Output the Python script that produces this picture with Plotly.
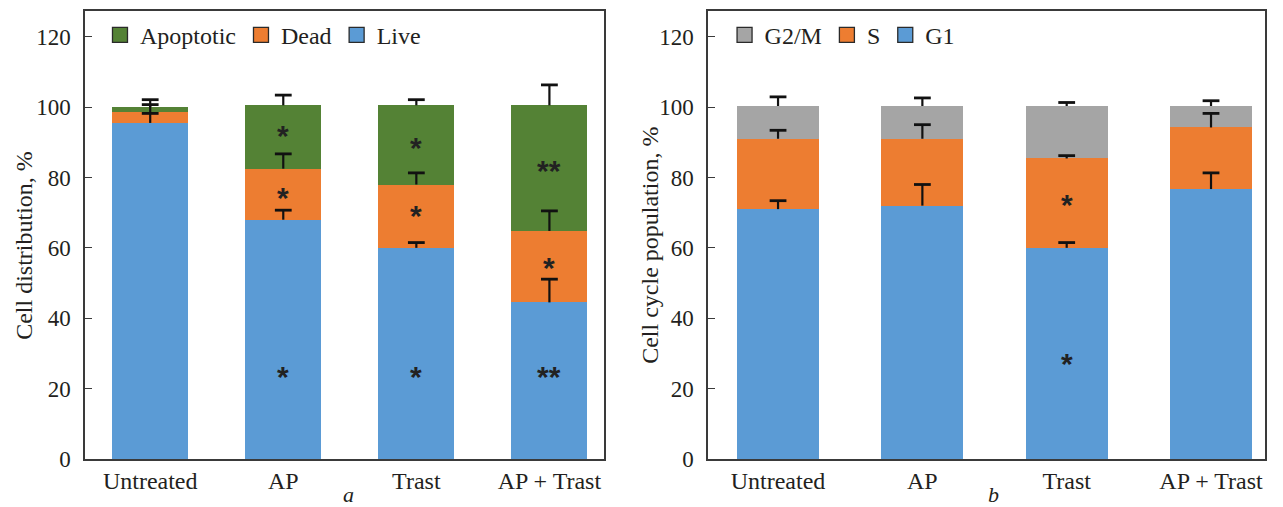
import plotly.graph_objects as go

# ---------------- data ----------------
categories = ["Untreated", "AP", "Trast", "AP + Trast"]

# panel a: cell distribution, %
live = [95.5, 68.0, 60.0, 44.5]
dead = [3.0, 14.5, 18.0, 20.3]
apoptotic = [1.5, 18.0, 22.5, 35.7]
live_err = [2.7, 2.7, 1.5, 6.6]
dead_err = [2.2, 4.2, 3.3, 5.7]
apoptotic_err = [2.1, 2.9, 1.6, 5.8]

# panel b: cell cycle population, %
g1 = [71.0, 72.0, 60.0, 76.7]
s_phase = [20.0, 19.0, 25.4, 17.5]
g2m = [9.3, 9.3, 14.9, 6.1]
g1_err = [2.4, 6.0, 1.5, 4.6]
s_err = [2.4, 4.0, 0.8, 4.0]
g2m_err = [2.6, 2.3, 1.0, 1.5]

y_ticks = [0, 20, 40, 60, 80, 100, 120]

# significance marks: (category, y value, label)
sig_a = [
    ("AP", 25.5, "*"), ("Trast", 25.5, "*"), ("AP + Trast", 25.5, "**"),
    ("AP", 76.3, "*"), ("Trast", 71.2, "*"), ("AP + Trast", 56.5, "*"),
    ("AP", 94.0, "*"), ("Trast", 90.5, "*"), ("AP + Trast", 84.0, "**"),
]
sig_b = [("Trast", 29.2, "*"), ("Trast", 74.3, "*")]

# ---------------- style ----------------
BLUE = "#5B9BD5"
ORANGE = "#ED7D31"
GREEN = "#548235"
GRAY = "#A5A5A5"
TXT = "#231F20"
FONT = "Liberation Serif"
BAR_W = 0.57
FS = 24
EB = "#111111"


def bar(y, color, xa, ya):
    return go.Bar(x=categories, y=y, width=BAR_W, marker=dict(color=color, line=dict(width=0)),
                  showlegend=False, xaxis=xa, yaxis=ya, hoverinfo="y")


def cumulative(*series):
    out, run = [], [0.0] * len(categories)
    for s in series:
        run = [a + b for a, b in zip(run, s)]
        out.append(run)
    return out


def err_overlay(tops, e, xa, ya):
    # upward-only "T" error bars drawn above the stacked segments
    stem = go.Scatter(x=categories, y=tops, mode="markers", marker=dict(size=1, opacity=0),
                      error_y=dict(type="data", symmetric=False, array=e,
                                   arrayminus=[0] * len(e), color=EB, thickness=2.2, width=0),
                      showlegend=False, hoverinfo="skip", xaxis=xa, yaxis=ya)
    caps = go.Scatter(x=categories, y=[t + v for t, v in zip(tops, e)], mode="markers",
                      marker=dict(symbol="line-ew", size=12, color=EB,
                                  line=dict(width=2.8, color=EB)),
                      showlegend=False, hoverinfo="skip", xaxis=xa, yaxis=ya)
    return [stem, caps]


def legend_item(name, color, xa, ya, lg):
    return go.Scatter(x=[None], y=[None], mode="markers", name=name,
                      marker=dict(symbol="square", size=15, color=color,
                                  line=dict(color="#2a2a2a", width=1.3)),
                      xaxis=xa, yaxis=ya, legend=lg, showlegend=True)


fig = go.Figure()
fig.add_trace(bar(live, BLUE, "x", "y"))
fig.add_trace(bar(dead, ORANGE, "x", "y"))
fig.add_trace(bar(apoptotic, GREEN, "x", "y"))
fig.add_trace(bar(g1, BLUE, "x2", "y2"))
fig.add_trace(bar(s_phase, ORANGE, "x2", "y2"))
fig.add_trace(bar(g2m, GRAY, "x2", "y2"))

ta = cumulative(live, dead, apoptotic)
for tops, e in zip(ta, [live_err, dead_err, apoptotic_err]):
    fig.add_traces(err_overlay(tops, e, "x", "y"))
tb = cumulative(g1, s_phase, g2m)
for tops, e in zip(tb, [g1_err, s_err, g2m_err]):
    fig.add_traces(err_overlay(tops, e, "x2", "y2"))

fig.add_trace(legend_item("Apoptotic", GREEN, "x", "y", "legend"))
fig.add_trace(legend_item("Dead", ORANGE, "x", "y", "legend"))
fig.add_trace(legend_item("Live", BLUE, "x", "y", "legend"))
fig.add_trace(legend_item("G2/M", GRAY, "x2", "y2", "legend2"))
fig.add_trace(legend_item("S", ORANGE, "x2", "y2", "legend2"))
fig.add_trace(legend_item("G1", BLUE, "x2", "y2", "legend2"))

axis_common = dict(showline=True, linecolor="#3a3a3a", linewidth=1.5, mirror=True,
                   showgrid=False, zeroline=False, automargin=False)

xa_common = dict(axis_common, type="category", ticks="", range=[-0.49, 3.41],
                 ticklabelstandoff=-1, tickfont=dict(family=FONT, size=FS, color=TXT))
ya_common = dict(axis_common, range=[0, 127.3], tickvals=y_ticks, ticks="inside", ticklen=7,
                 tickwidth=1.3, tickcolor="#3a3a3a", ticklabelstandoff=8,
                 tickfont=dict(family=FONT, size=23, color=TXT))

star_font = dict(family="Liberation Sans", size=30, color="#222222")
annotations = []
for cat, yv, lab in sig_a:
    annotations.append(dict(x=cat, y=yv, xref="x", yref="y", text="<b>%s</b>" % lab,
                            showarrow=False, font=star_font, yshift=-7))
for cat, yv, lab in sig_b:
    annotations.append(dict(x=cat, y=yv, xref="x2", yref="y2", text="<b>%s</b>" % lab,
                            showarrow=False, font=star_font, yshift=-7))

text_font = dict(family=FONT, size=FS, color=TXT)
letter_font = dict(family=FONT, size=22, color=TXT)
# panel letters
annotations.append(dict(x=0.2229, y=-0.079, xref="paper", yref="paper", text="<i>a</i>",
                        xanchor="center", yanchor="middle", height=24, showarrow=False,
                        font=letter_font))
annotations.append(dict(x=0.7695, y=-0.079, xref="paper", yref="paper", text="<i>b</i>",
                        xanchor="center", yanchor="middle", height=24, showarrow=False,
                        font=letter_font))
# y-axis titles
annotations.append(dict(x=-0.0517, y=0.478, xref="paper", yref="paper",
                        text="Cell distribution, %", textangle=-90, xanchor="center",
                        yanchor="middle", showarrow=False, font=text_font))
annotations.append(dict(x=0.4788, y=0.478, xref="paper", yref="paper",
                        text="Cell cycle population, %", textangle=-90, xanchor="center",
                        yanchor="middle", showarrow=False, font=text_font))

legend_common = dict(orientation="h", xanchor="left", yanchor="middle", y=0.946,
                     font=dict(family=FONT, size=FS, color=TXT), bgcolor="rgba(0,0,0,0)",
                     borderwidth=0, itemwidth=30, traceorder="normal")

# the page body adds an 8 px offset; margins compensate so the plot lands where the reference has it
fig.update_layout(
    width=1283, height=507,
    margin=dict(l=77, r=26, t=3, b=56, autoexpand=False),
    paper_bgcolor="white", plot_bgcolor="white",
    barmode="stack",
    showlegend=True,
    xaxis=dict(xa_common, domain=[0, 0.4398], anchor="y"),
    yaxis=dict(ya_common, anchor="x"),
    xaxis2=dict(xa_common, domain=[0.528, 1], anchor="y2", range=[-0.485, 3.374]),
    yaxis2=dict(ya_common, anchor="x2"),
    legend=dict(legend_common, x=0.0127),
    legend2=dict(legend_common, x=0.542),
    annotations=annotations,
)

fig.write_html("out.html")
